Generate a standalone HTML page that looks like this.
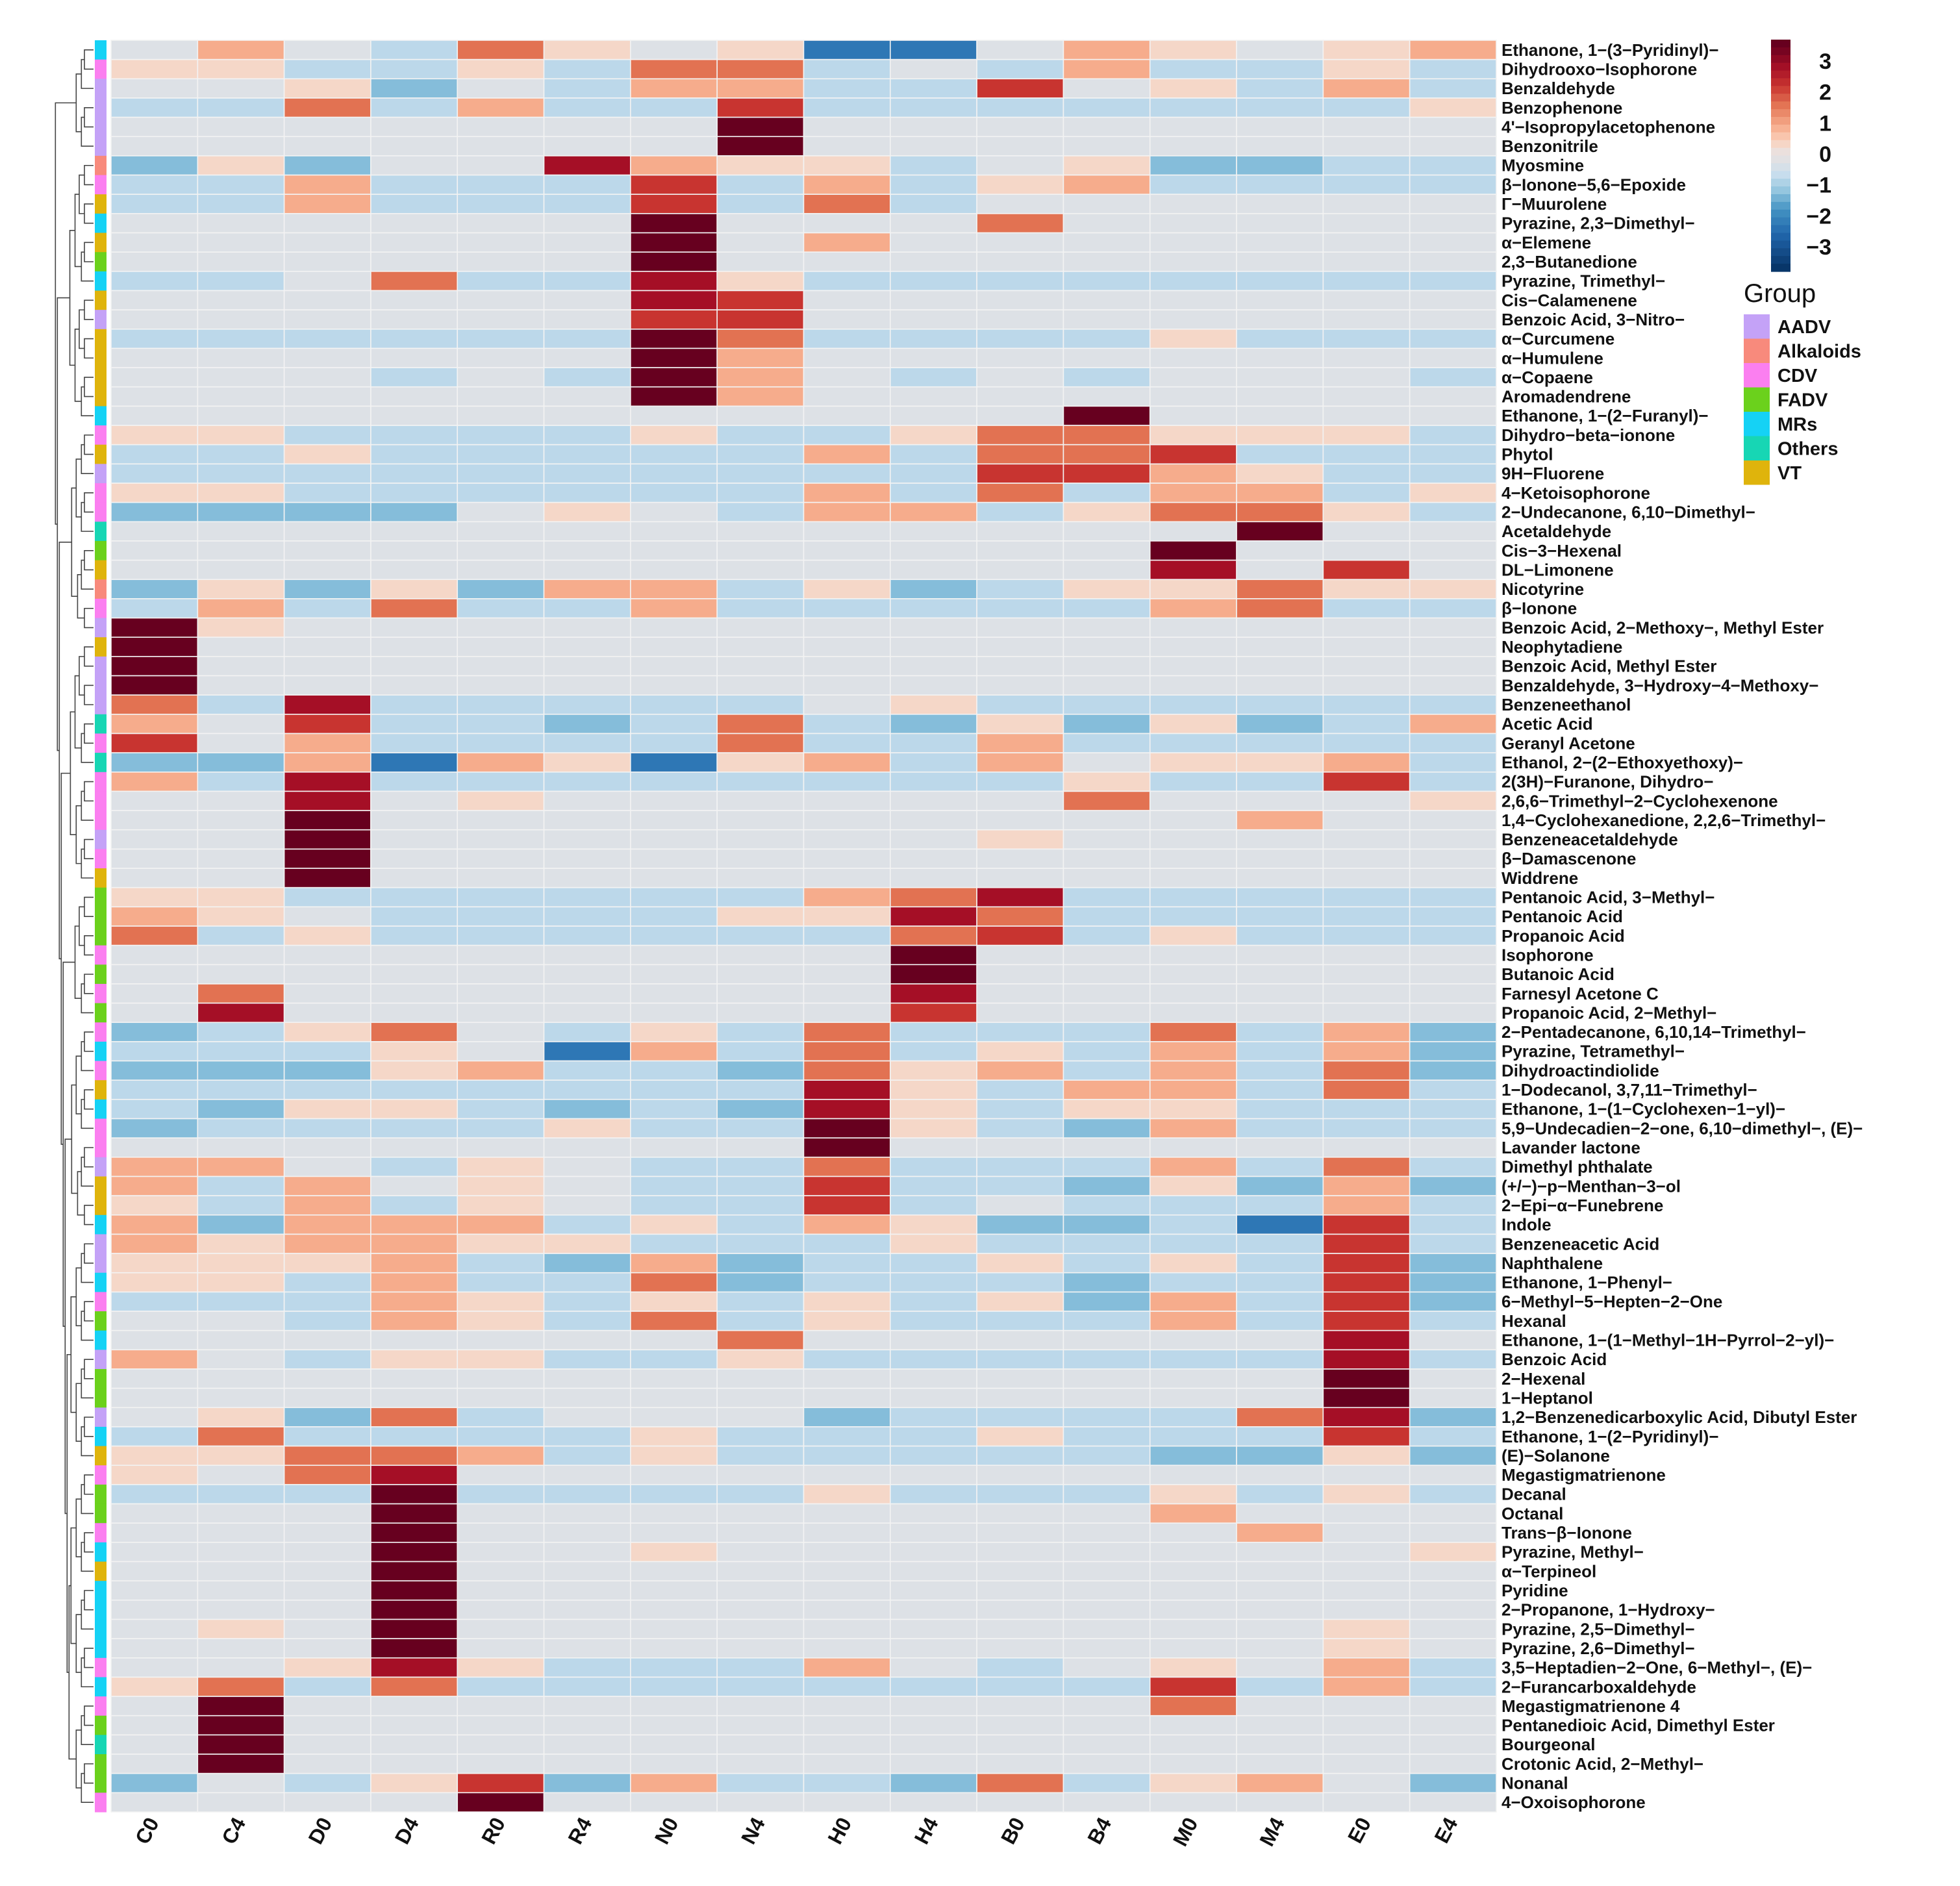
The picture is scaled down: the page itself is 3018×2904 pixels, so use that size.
<!DOCTYPE html>
<html><head><meta charset="utf-8"><style>
html,body{margin:0;padding:0;background:#fff;}
svg text{font-family:"Liberation Sans",Arial,sans-serif;font-weight:bold;fill:#111;}
</style></head><body>
<svg id="chart" width="3018" height="2899" viewBox="0 0 3018 2899" xmlns="http://www.w3.org/2000/svg">
<g id="dendro"></g>
<g id="annot"></g>
<g id="cells"></g>
<g id="rowlabels"></g>
<g id="collabels"></g>
<g id="colorbar"></g>
<g id="grouplegend"></g>
</svg>
<script>
const columns = ["C0","C4","D0","D4","R0","R4","N0","N4","H0","H4","B0","B4","M0","M4","E0","E4"];
const rowNames = ["Ethanone, 1\u2212(3\u2212Pyridinyl)\u2212","Dihydrooxo\u2212Isophorone","Benzaldehyde","Benzophenone","4'\u2212Isopropylacetophenone","Benzonitrile","Myosmine","\u03b2\u2212Ionone\u22125,6\u2212Epoxide","\u0393\u2212Muurolene","Pyrazine, 2,3\u2212Dimethyl\u2212","\u03b1\u2212Elemene","2,3\u2212Butanedione","Pyrazine, Trimethyl\u2212","Cis\u2212Calamenene","Benzoic Acid, 3\u2212Nitro\u2212","\u03b1\u2212Curcumene","\u03b1\u2212Humulene","\u03b1\u2212Copaene","Aromadendrene","Ethanone, 1\u2212(2\u2212Furanyl)\u2212","Dihydro\u2212beta\u2212ionone","Phytol","9H\u2212Fluorene","4\u2212Ketoisophorone","2\u2212Undecanone, 6,10\u2212Dimethyl\u2212","Acetaldehyde","Cis\u22123\u2212Hexenal","DL\u2212Limonene","Nicotyrine","\u03b2\u2212Ionone","Benzoic Acid, 2\u2212Methoxy\u2212, Methyl Ester","Neophytadiene","Benzoic Acid, Methyl Ester","Benzaldehyde, 3\u2212Hydroxy\u22124\u2212Methoxy\u2212","Benzeneethanol","Acetic Acid","Geranyl Acetone","Ethanol, 2\u2212(2\u2212Ethoxyethoxy)\u2212","2(3H)\u2212Furanone, Dihydro\u2212","2,6,6\u2212Trimethyl\u22122\u2212Cyclohexenone","1,4\u2212Cyclohexanedione, 2,2,6\u2212Trimethyl\u2212","Benzeneacetaldehyde","\u03b2\u2212Damascenone","Widdrene","Pentanoic Acid, 3\u2212Methyl\u2212","Pentanoic Acid","Propanoic Acid","Isophorone","Butanoic Acid","Farnesyl Acetone C","Propanoic Acid, 2\u2212Methyl\u2212","2\u2212Pentadecanone, 6,10,14\u2212Trimethyl\u2212","Pyrazine, Tetramethyl\u2212","Dihydroactindiolide","1\u2212Dodecanol, 3,7,11\u2212Trimethyl\u2212","Ethanone, 1\u2212(1\u2212Cyclohexen\u22121\u2212yl)\u2212","5,9\u2212Undecadien\u22122\u2212one, 6,10\u2212dimethyl\u2212, (E)\u2212","Lavander lactone","Dimethyl phthalate","(+/\u2212)\u2212p\u2212Menthan\u22123\u2212ol","2\u2212Epi\u2212\u03b1\u2212Funebrene","Indole","Benzeneacetic Acid","Naphthalene","Ethanone, 1\u2212Phenyl\u2212","6\u2212Methyl\u22125\u2212Hepten\u22122\u2212One","Hexanal","Ethanone, 1\u2212(1\u2212Methyl\u22121H\u2212Pyrrol\u22122\u2212yl)\u2212","Benzoic Acid","2\u2212Hexenal","1\u2212Heptanol","1,2\u2212Benzenedicarboxylic Acid, Dibutyl Ester","Ethanone, 1\u2212(2\u2212Pyridinyl)\u2212","(E)\u2212Solanone","Megastigmatrienone","Decanal","Octanal","Trans\u2212\u03b2\u2212Ionone","Pyrazine, Methyl\u2212","\u03b1\u2212Terpineol","Pyridine","2\u2212Propanone, 1\u2212Hydroxy\u2212","Pyrazine, 2,5\u2212Dimethyl\u2212","Pyrazine, 2,6\u2212Dimethyl\u2212","3,5\u2212Heptadien\u22122\u2212One, 6\u2212Methyl\u2212, (E)\u2212","2\u2212Furancarboxaldehyde","Megastigmatrienone 4","Pentanedioic Acid, Dimethyl Ester","Bourgeonal","Crotonic Acid, 2\u2212Methyl\u2212","Nonanal","4\u2212Oxoisophorone"];
// value codes per row (16 columns): g=-0.3 b=-0.8 B=-1.3 X=-2.3 p=0.3 P=0.9 o=1.6 r=2.2 R=2.8 D=3.5
const valueCodes = ["gPgbopgpXXgPpgpP","ppbbpboobgbPbbpb","ggpBgbPPbbrgpbPb","bbobPbbrbbbbbbbp","gggggggDgggggggg","gggggggDgggggggg",
"BpBggRPppbgpBBbb","bbPbbbrbPbpPbbbb","bbPbbbrbobgggggg","ggggggDgggoggggg","ggggggDgPggggggg","ggggggDggggggggg",
"bbgobbRpbbbbbbbb","ggggggRrgggggggg","ggggggrrgggggggg","bbbbbbDobbbbpbbb","ggggggDPgggggggg","gggbgbDPgbgbgggb",
"ggggggDPgggggggg","gggggggggggDgggg","ppbbbbpbbpoopppb","bbpbbbbbPboorbbb","bbbbbbbbbbrrPpbb","ppbbbbbbPbobPPbp",
"BBBBgpgbPPbpoopb","gggggggggggggDgg","ggggggggggggDggg","ggggggggggggRgrg","BpBpBPPbpBbppopp","bPbobbPbbbbbPobb",
"Dpgggggggggggggg","Dggggggggggggggg","Dggggggggggggggg","Dggggggggggggggg","obRbbbbbgpbbbbbb","PgrbbBbobBpBpBbP",
"rgPbbbbobbPbbbbb","BBPXPpXpPbPgppPb","PbRbbbbbbbbpbbrb","ggRgpggggggogggp","ggDggggggggggPgg","ggDgggggggpggggg",
"ggDggggggggggggg","ggDggggggggggggg","ppbbbbbbPoRbbbbb","PpgbbbbppRobbbbb","obpbbbbbborbpbbb","gggggggggDgggggg",
"gggggggggDgggggg","gogggggggRgggggg","gRgggggggrgggggg","BbpogbpbobbbobPB",
"bbbpgXPbobpbPbPB","BBBpPbbBopPbPboB","bbbbbbbbRpbPPbob","bBppbBbBRpbppbbb","BbbbbpbbDpbBPbbb","ggggggggDggggggg",
"PPgbpgbbobbbPbob","PbPgpgbbrbbBpBPB","pbPbpgbbrbgbbbPb","PBPPPbpbPpBBbXrb","PpPPppbbbpbbbbrb","pppPbBPBbbpbpbrB",
"ppbPbboBbbbBbbrB","bbbPpbpbpbpBPbrB","ggbPpbobpbbbPbrb","gggggggoggggggRg","PgbppbbpbbbbbbRb","ggggggggggggggDg",
"ggggggggggggggDg","gpBobgggBbbbboRB","bobbbbpbbbpbbbrb","ppooPbpbbbbbBBpB","pgoRgggggggggggg","bbbDbbbbpbbbpbpb",
"gggDggggggggPggg","gggDgggggggggPgg","gggDggpggggggggp","gggDgggggggggggg","gggDgggggggggggg","gggDgggggggggggg",
"gpgDggggggggggpg","gggDggggggggggpg","ggpRpbbbPgbgpgPb","pobobbbbbbbbrbPb","gDggggggggggoggg","gDgggggggggggggg",
"gDgggggggggggggg","gDgggggggggggggg","BgbprBPbbBobpPgB","ggggDggggggggggg"];
const rowGroups = "MCAAAAKCVMVFMVAVVVVMCVACCOFVKCAVAAAOCOCCCACVFFFCFCFCMCVMCCAVVMAAMCFMAFFAMVCFFCMVMMMMCMCFOFFC";
const groupNames = ["AADV","Alkaloids","CDV","FADV","MRs","Others","VT"];
const groupKeys = ["A","K","C","F","M","O","V"];
const groupColors = ["#c4a2f7","#f88a7c","#fb7ff0","#6bd11c","#15d2f5","#17d6b4","#dfb40c"];
const legendTicks = [3,2,1,0,-1,-2,-3];
const codeMap = {g:-0.3,b:-0.8,B:-1.3,X:-2.3,p:0.3,P:0.9,o:1.6,r:2.2,R:2.8,D:3.5};

const NS="http://www.w3.org/2000/svg";
function mk(tag,attrs,parent){const e=document.createElementNS(NS,tag);for(const k in attrs)e.setAttribute(k,attrs[k]);parent.appendChild(e);return e;}
const L=171,R=2304,T=62,B=2790;
const cw=(R-L)/columns.length, rh=(B-T)/rowNames.length;
const xPos=i=>L+i*cw, yPos=j=>T+j*rh;
const stops=[[-3.8,[5,48,97]],[-2.6,[33,102,172]],[-1.8,[67,147,195]],[-1.2,[146,197,222]],[-0.7,[198,221,237]],[-0.3,[221,225,230]],[0.1,[236,224,220]],[0.4,[250,210,190]],[0.9,[246,172,140]],[1.6,[226,114,82]],[2.2,[200,52,48]],[2.8,[165,15,38]],[3.5,[103,0,31]]];
function color(v){if(v<=stops[0][0])return rgb(stops[0][1]);for(let i=1;i<stops.length;i++){if(v<=stops[i][0]){const a=stops[i-1],b=stops[i],t=(v-a[0])/(b[0]-a[0]);return rgb(a[1].map((c,k)=>c+(b[1][k]-c)*t));}}return rgb(stops[stops.length-1][1]);}
function rgb(c){return "rgb("+c.map(Math.round).join(",")+")";}

const cells=document.getElementById('cells');
valueCodes.forEach((row,j)=>{
  for(let i=0;i<columns.length;i++){
    const v=codeMap[row[i]]??-0.3;
    const r=mk('rect',{x:xPos(i),y:yPos(j),width:cw,height:rh,fill:color(v),stroke:"#f3f3f3","stroke-width":1.6},cells);
    
    
  }
});
const rl=document.getElementById('rowlabels');
rowNames.forEach((n,j)=>{
  const t=mk('text',{x:R+8,y:yPos(j)+rh/2+9,'font-size':26},rl);t.textContent=n;
  
  
});
const cl=document.getElementById('collabels');
columns.forEach((c,i)=>{
  const cx=xPos(i)+cw/2+8, cy=B+16;
  const t=mk('text',{x:cx,y:cy,'font-size':32,'text-anchor':'end',transform:`rotate(-62 ${cx} ${cy})`},cl);t.textContent=c;
  
  
});
const an=document.getElementById('annot');
for(let j=0;j<rowNames.length;j++){
  const gi=groupKeys.indexOf(rowGroups[j]);
  const r=mk('rect',{x:146,y:yPos(j),width:18,height:rh+0.5,fill:groupColors[gi<0?2:gi]},an);
  
  
}
const dg=document.getElementById('dendro');
function build(a,b,depth){
  if(a===b) return [yPos(a)+rh/2,144];
  const m=Math.floor((a+b)/2);
  const l=build(a,m,depth+1), r=build(m+1,b,depth+1);
  const size=b-a+1;
  const x=144-Math.min(56,6+Math.log2(size)*8);
  const xx=Math.min(x,l[1]-2,r[1]-2);
  mk('path',{d:`M${l[1]} ${l[0]}H${xx}V${r[0]}H${r[1]}`,fill:"none",stroke:"#444","stroke-width":1.6},dg);
  return [(l[0]+r[0])/2,xx];
}
const blocks=[[0,5],[6,19],[20,30],[31,43],[44,50],[51,61],[62,73],[74,85],[86,91]];
const tops=blocks.map(b=>build(b[0],b[1],0));
let cur=tops[tops.length-1];
for(let k=tops.length-2;k>=0;k--){const t=tops[k];const x=Math.min(cur[1],t[1])-3;mk('path',{d:`M${t[1]} ${t[0]}H${x}V${cur[0]}H${cur[1]}`,fill:"none",stroke:"#444","stroke-width":1.6},dg);cur=[(t[0]+cur[0])/2,x];}
const cb=document.getElementById('colorbar');
const cbTop=61,cbBot=418,unit=(380-94)/6,zeroY=237;
const steps=30;
for(let s=0;s<steps;s++){const y0=cbTop+(cbBot-cbTop)*s/steps;const v=(zeroY-(y0+(cbBot-cbTop)/steps/2))/unit;
  const r=mk('rect',{x:2727,y:y0,width:30,height:(cbBot-cbTop)/steps+0.6,fill:color(v)},cb);
  
  }
legendTicks.forEach(v=>{const t=mk('text',{x:2820,y:zeroY-v*unit+12,'font-size':34,'text-anchor':'end'},cb);t.textContent=(v<0?"\u2212":"")+Math.abs(v);
  
  });
const gl=document.getElementById('grouplegend');
const gt=mk('text',{x:2685,y:465,'font-size':40,style:'font-weight:normal'},gl);gt.textContent="Group";


groupNames.forEach((n,i)=>{const y=484+i*37.5;
  const r=mk('rect',{x:2685,y:y,width:40,height:37.5,fill:groupColors[i]},gl);
  
  
  const t=mk('text',{x:2737,y:y+29,'font-size':29},gl);t.textContent=n;
  
  });
</script>
</body></html>
